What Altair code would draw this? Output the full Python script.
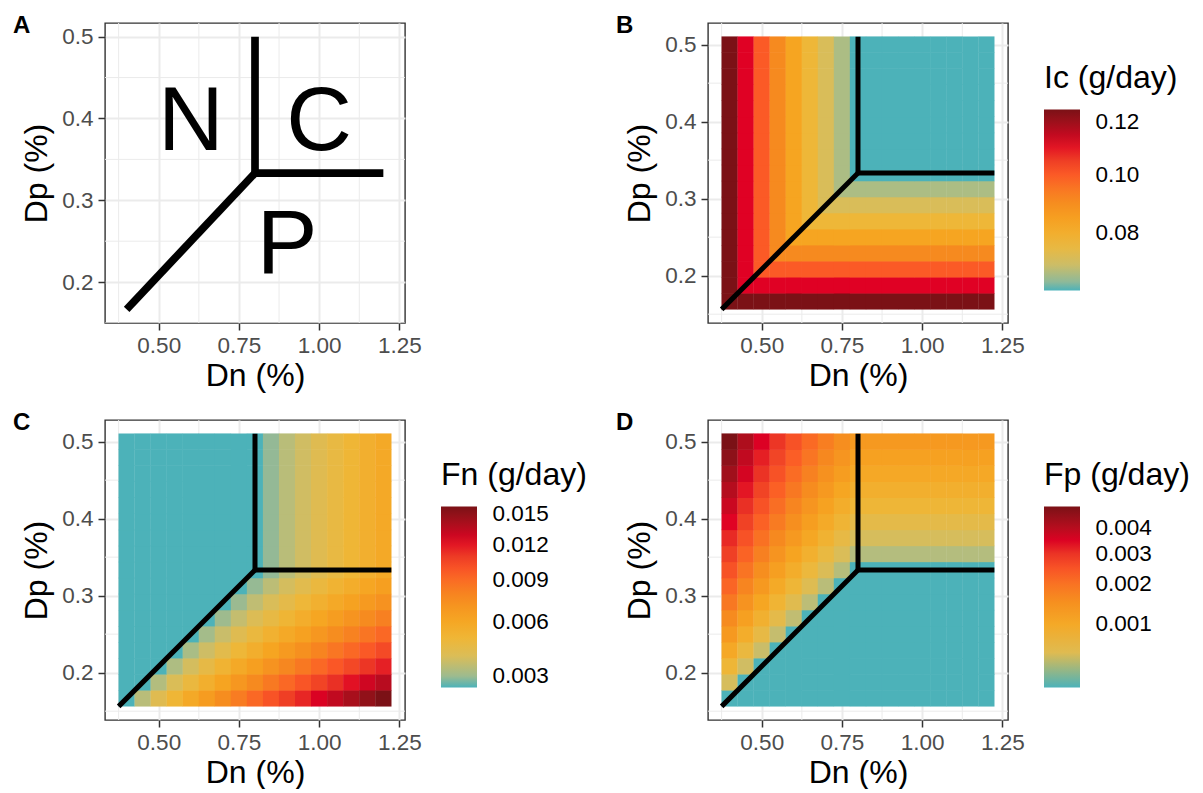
import altair as alt
import pandas as pd

FONT = "Liberation Sans"

# ---------------- data ----------------
DN = [0.40, 0.45, 0.50, 0.55, 0.60, 0.65, 0.70, 0.75, 0.80, 0.85, 0.90, 0.95, 1.00, 1.05, 1.10, 1.15, 1.20]
DP = [0.1667, 0.1875, 0.2083, 0.2292, 0.2500, 0.2708, 0.2917, 0.3125, 0.3333,
      0.3542, 0.3750, 0.3958, 0.4167, 0.4375, 0.4583, 0.4792, 0.5000]

# rows from bottom (Dp = 0.1667) to top (Dp = 0.5), columns Dn 0.40 .. 1.20
IC_ROWS = [
    [0.125, 0.125, 0.125, 0.125, 0.125, 0.125, 0.125, 0.125, 0.125, 0.125, 0.125, 0.125, 0.125, 0.125, 0.125, 0.125, 0.125],
    [0.125, 0.1111, 0.1111, 0.1111, 0.1111, 0.1111, 0.1111, 0.1111, 0.1111, 0.1111, 0.1111, 0.1111, 0.1111, 0.1111, 0.1111, 0.1111, 0.1111],
    [0.125, 0.1111, 0.1, 0.1, 0.1, 0.1, 0.1, 0.1, 0.1, 0.1, 0.1, 0.1, 0.1, 0.1, 0.1, 0.1, 0.1],
    [0.125, 0.1111, 0.1, 0.0909, 0.0909, 0.0909, 0.0909, 0.0909, 0.0909, 0.0909, 0.0909, 0.0909, 0.0909, 0.0909, 0.0909, 0.0909, 0.0909],
    [0.125, 0.1111, 0.1, 0.0909, 0.0833, 0.0833, 0.0833, 0.0833, 0.0833, 0.0833, 0.0833, 0.0833, 0.0833, 0.0833, 0.0833, 0.0833, 0.0833],
    [0.125, 0.1111, 0.1, 0.0909, 0.0833, 0.0769, 0.0769, 0.0769, 0.0769, 0.0769, 0.0769, 0.0769, 0.0769, 0.0769, 0.0769, 0.0769, 0.0769],
    [0.125, 0.1111, 0.1, 0.0909, 0.0833, 0.0769, 0.0714, 0.0714, 0.0714, 0.0714, 0.0714, 0.0714, 0.0714, 0.0714, 0.0714, 0.0714, 0.0714],
    [0.125, 0.1111, 0.1, 0.0909, 0.0833, 0.0769, 0.0714, 0.0667, 0.0667, 0.0667, 0.0667, 0.0667, 0.0667, 0.0667, 0.0667, 0.0667, 0.0667],
    [0.125, 0.1111, 0.1, 0.0909, 0.0833, 0.0769, 0.0714, 0.0667, 0.0625, 0.0625, 0.0625, 0.0625, 0.0625, 0.0625, 0.0625, 0.0625, 0.0625],
    [0.125, 0.1111, 0.1, 0.0909, 0.0833, 0.0769, 0.0714, 0.0667, 0.0625, 0.0625, 0.0625, 0.0625, 0.0625, 0.0625, 0.0625, 0.0625, 0.0625],
    [0.125, 0.1111, 0.1, 0.0909, 0.0833, 0.0769, 0.0714, 0.0667, 0.0625, 0.0625, 0.0625, 0.0625, 0.0625, 0.0625, 0.0625, 0.0625, 0.0625],
    [0.125, 0.1111, 0.1, 0.0909, 0.0833, 0.0769, 0.0714, 0.0667, 0.0625, 0.0625, 0.0625, 0.0625, 0.0625, 0.0625, 0.0625, 0.0625, 0.0625],
    [0.125, 0.1111, 0.1, 0.0909, 0.0833, 0.0769, 0.0714, 0.0667, 0.0625, 0.0625, 0.0625, 0.0625, 0.0625, 0.0625, 0.0625, 0.0625, 0.0625],
    [0.125, 0.1111, 0.1, 0.0909, 0.0833, 0.0769, 0.0714, 0.0667, 0.0625, 0.0625, 0.0625, 0.0625, 0.0625, 0.0625, 0.0625, 0.0625, 0.0625],
    [0.125, 0.1111, 0.1, 0.0909, 0.0833, 0.0769, 0.0714, 0.0667, 0.0625, 0.0625, 0.0625, 0.0625, 0.0625, 0.0625, 0.0625, 0.0625, 0.0625],
    [0.125, 0.1111, 0.1, 0.0909, 0.0833, 0.0769, 0.0714, 0.0667, 0.0625, 0.0625, 0.0625, 0.0625, 0.0625, 0.0625, 0.0625, 0.0625, 0.0625],
    [0.125, 0.1111, 0.1, 0.0909, 0.0833, 0.0769, 0.0714, 0.0667, 0.0625, 0.0625, 0.0625, 0.0625, 0.0625, 0.0625, 0.0625, 0.0625, 0.0625],
]

FN_ROWS = [
    [0.0025, 0.00333, 0.00417, 0.0050, 0.00583, 0.00667, 0.0075, 0.00833, 0.00917, 0.0100, 0.01083, 0.01167, 0.0125, 0.01333, 0.01417, 0.0150, 0.01583],
    [0.0025, 0.0025, 0.00324, 0.00398, 0.00472, 0.00546, 0.0062, 0.00694, 0.00769, 0.00843, 0.00917, 0.00991, 0.01065, 0.01139, 0.01213, 0.01287, 0.01361],
    [0.0025, 0.0025, 0.0025, 0.00317, 0.00383, 0.0045, 0.00517, 0.00583, 0.0065, 0.00717, 0.00783, 0.0085, 0.00917, 0.00983, 0.0105, 0.01117, 0.01183],
    [0.0025, 0.0025, 0.0025, 0.0025, 0.00311, 0.00371, 0.00432, 0.00492, 0.00553, 0.00614, 0.00674, 0.00735, 0.00795, 0.00856, 0.00917, 0.00977, 0.01038],
    [0.0025, 0.0025, 0.0025, 0.0025, 0.0025, 0.00306, 0.00361, 0.00417, 0.00472, 0.00528, 0.00583, 0.00639, 0.00694, 0.0075, 0.00806, 0.00861, 0.00917],
    [0.0025, 0.0025, 0.0025, 0.0025, 0.0025, 0.0025, 0.00301, 0.00353, 0.00404, 0.00455, 0.00506, 0.00558, 0.00609, 0.0066, 0.00712, 0.00763, 0.00814],
    [0.0025, 0.0025, 0.0025, 0.0025, 0.0025, 0.0025, 0.0025, 0.00298, 0.00345, 0.00393, 0.0044, 0.00488, 0.00536, 0.00583, 0.00631, 0.00679, 0.00726],
    [0.0025, 0.0025, 0.0025, 0.0025, 0.0025, 0.0025, 0.0025, 0.0025, 0.00294, 0.00339, 0.00383, 0.00428, 0.00472, 0.00517, 0.00561, 0.00606, 0.0065],
    [0.0025, 0.0025, 0.0025, 0.0025, 0.0025, 0.0025, 0.0025, 0.0025, 0.0025, 0.00292, 0.00333, 0.00375, 0.00417, 0.00458, 0.005, 0.00542, 0.00583],
    [0.0025, 0.0025, 0.0025, 0.0025, 0.0025, 0.0025, 0.0025, 0.0025, 0.0025, 0.00292, 0.00333, 0.00375, 0.00417, 0.00458, 0.005, 0.00542, 0.00583],
    [0.0025, 0.0025, 0.0025, 0.0025, 0.0025, 0.0025, 0.0025, 0.0025, 0.0025, 0.00292, 0.00333, 0.00375, 0.00417, 0.00458, 0.005, 0.00542, 0.00583],
    [0.0025, 0.0025, 0.0025, 0.0025, 0.0025, 0.0025, 0.0025, 0.0025, 0.0025, 0.00292, 0.00333, 0.00375, 0.00417, 0.00458, 0.005, 0.00542, 0.00583],
    [0.0025, 0.0025, 0.0025, 0.0025, 0.0025, 0.0025, 0.0025, 0.0025, 0.0025, 0.00292, 0.00333, 0.00375, 0.00417, 0.00458, 0.005, 0.00542, 0.00583],
    [0.0025, 0.0025, 0.0025, 0.0025, 0.0025, 0.0025, 0.0025, 0.0025, 0.0025, 0.00292, 0.00333, 0.00375, 0.00417, 0.00458, 0.005, 0.00542, 0.00583],
    [0.0025, 0.0025, 0.0025, 0.0025, 0.0025, 0.0025, 0.0025, 0.0025, 0.0025, 0.00292, 0.00333, 0.00375, 0.00417, 0.00458, 0.005, 0.00542, 0.00583],
    [0.0025, 0.0025, 0.0025, 0.0025, 0.0025, 0.0025, 0.0025, 0.0025, 0.0025, 0.00292, 0.00333, 0.00375, 0.00417, 0.00458, 0.005, 0.00542, 0.00583],
    [0.0025, 0.0025, 0.0025, 0.0025, 0.0025, 0.0025, 0.0025, 0.0025, 0.0025, 0.00292, 0.00333, 0.00375, 0.00417, 0.00458, 0.005, 0.00542, 0.00583],
]

FP_ROWS = [
    [0.00012, 0.00012, 0.00012, 0.00012, 0.00012, 0.00012, 0.00012, 0.00012, 0.00012, 0.00012, 0.00012, 0.00012, 0.00012, 0.00012, 0.00012, 0.00012, 0.00012],
    [0.00042, 0.00012, 0.00012, 0.00012, 0.00012, 0.00012, 0.00012, 0.00012, 0.00012, 0.00012, 0.00012, 0.00012, 0.00012, 0.00012, 0.00012, 0.00012, 0.00012],
    [0.00072, 0.00039, 0.00012, 0.00012, 0.00012, 0.00012, 0.00012, 0.00012, 0.00012, 0.00012, 0.00012, 0.00012, 0.00012, 0.00012, 0.00012, 0.00012, 0.00012],
    [0.00102, 0.00065, 0.00036, 0.00012, 0.00012, 0.00012, 0.00012, 0.00012, 0.00012, 0.00012, 0.00012, 0.00012, 0.00012, 0.00012, 0.00012, 0.00012, 0.00012],
    [0.00132, 0.00092, 0.0006, 0.00034, 0.00012, 0.00012, 0.00012, 0.00012, 0.00012, 0.00012, 0.00012, 0.00012, 0.00012, 0.00012, 0.00012, 0.00012, 0.00012],
    [0.00162, 0.00119, 0.00084, 0.00056, 0.00032, 0.00012, 0.00012, 0.00012, 0.00012, 0.00012, 0.00012, 0.00012, 0.00012, 0.00012, 0.00012, 0.00012, 0.00012],
    [0.00192, 0.00145, 0.00108, 0.00077, 0.00052, 0.0003, 0.00012, 0.00012, 0.00012, 0.00012, 0.00012, 0.00012, 0.00012, 0.00012, 0.00012, 0.00012, 0.00012],
    [0.00222, 0.00172, 0.00132, 0.00099, 0.00072, 0.00049, 0.00029, 0.00012, 0.00012, 0.00012, 0.00012, 0.00012, 0.00012, 0.00012, 0.00012, 0.00012, 0.00012],
    [0.00252, 0.00199, 0.00156, 0.00121, 0.00092, 0.00067, 0.00046, 0.00028, 0.00012, 0.00012, 0.00012, 0.00012, 0.00012, 0.00012, 0.00012, 0.00012, 0.00012],
    [0.00282, 0.00225, 0.0018, 0.00143, 0.00112, 0.00086, 0.00063, 0.00044, 0.00027, 0.00027, 0.00027, 0.00027, 0.00027, 0.00027, 0.00027, 0.00027, 0.00027],
    [0.00312, 0.00252, 0.00204, 0.00165, 0.00132, 0.00104, 0.00081, 0.0006, 0.00042, 0.00042, 0.00042, 0.00042, 0.00042, 0.00042, 0.00042, 0.00042, 0.00042],
    [0.00342, 0.00279, 0.00228, 0.00187, 0.00152, 0.00123, 0.00098, 0.00076, 0.00057, 0.00057, 0.00057, 0.00057, 0.00057, 0.00057, 0.00057, 0.00057, 0.00057],
    [0.00372, 0.00305, 0.00252, 0.00208, 0.00172, 0.00141, 0.00115, 0.00092, 0.00072, 0.00072, 0.00072, 0.00072, 0.00072, 0.00072, 0.00072, 0.00072, 0.00072],
    [0.00402, 0.00332, 0.00276, 0.0023, 0.00192, 0.0016, 0.00132, 0.00108, 0.00087, 0.00087, 0.00087, 0.00087, 0.00087, 0.00087, 0.00087, 0.00087, 0.00087],
    [0.00432, 0.00359, 0.003, 0.00252, 0.00212, 0.00178, 0.00149, 0.00124, 0.00102, 0.00102, 0.00102, 0.00102, 0.00102, 0.00102, 0.00102, 0.00102, 0.00102],
    [0.00462, 0.00385, 0.00324, 0.00274, 0.00232, 0.00197, 0.00166, 0.0014, 0.00117, 0.00117, 0.00117, 0.00117, 0.00117, 0.00117, 0.00117, 0.00117, 0.00117],
    [0.00492, 0.00412, 0.00348, 0.00296, 0.00252, 0.00215, 0.00183, 0.00156, 0.00132, 0.00132, 0.00132, 0.00132, 0.00132, 0.00132, 0.00132, 0.00132, 0.00132],
]

for _rows in (IC_ROWS, FN_ROWS, FP_ROWS):
    assert len(_rows) == 17 and all(len(r) == 17 for r in _rows)

# limiting-element boundary segments
A_X = [0.4, 0.8, 0.8]
A_Y = [0.1667, 0.3333, 0.3333]
A_X2 = [0.8, 0.8, 1.2]
A_Y2 = [0.3333, 0.5, 0.3333]
H_X = [0.375, 0.8, 0.8]
H_Y = [0.15625, 0.3333, 0.3333]
H_X2 = [0.8, 0.8, 1.225]
H_Y2 = [0.3333, 0.5104, 0.3333]

REGION_TEXT = ["N", "C", "P"]
REGION_X = [0.6, 1.0, 0.9]
REGION_Y = [0.4, 0.4, 0.25]

X_TICKS = [0.5, 0.75, 1.0, 1.25]
Y_TICKS = [0.2, 0.3, 0.4, 0.5]
X_MINOR = [0.375, 0.625, 0.875, 1.125]
Y_MINOR = [0.15, 0.25, 0.35, 0.45]

IC_TICKS = [0.08, 0.10, 0.12]
FN_TICKS = [0.003, 0.006, 0.009, 0.012, 0.015]
FP_TICKS = [0.001, 0.002, 0.003, 0.004]

# ---------------- styling ----------------
X_DOM = [0.3325, 1.2675]
Y_DOM_A = [0.15, 0.51667]
Y_DOM_H = [0.13854, 0.52813]
HALF_W = 0.0254
HALF_H = 0.0107
W = 300
H = 300

STOP_T = [0.0, 0.079, 0.167, 0.264, 0.374, 0.498, 0.640, 0.805, 1.0]
PALETTE = ["#4CB2B9", "#ACBD84", "#D9BD59", "#EEB738", "#F6A521",
           "#F68A1F", "#FB5A26", "#E00024", "#7B1116"]


def color_scale(lo, hi):
    s0, s1 = lo ** 0.5, hi ** 0.5
    dom = [(s0 + t * (s1 - s0)) ** 2 for t in STOP_T]
    return alt.Scale(type="sqrt", domain=dom, range=PALETTE, interpolate="lab")


def xaxis():
    return alt.Axis(values=X_TICKS, format=".2f", title="Dn (%)")


def yaxis():
    return alt.Axis(values=Y_TICKS, format=".1f", title="Dp (%)")


def xs():
    return alt.Scale(domain=X_DOM, nice=False, zero=False)


def ys(dom):
    return alt.Scale(domain=dom, nice=False, zero=False)


def minor_layers(ydom):
    vx = alt.Chart(pd.DataFrame({"m": X_MINOR})).mark_rule(
        color="#EBEBEB", strokeWidth=1, clip=True
    ).encode(x=alt.X("m:Q", scale=xs(), axis=xaxis()))
    hy = alt.Chart(pd.DataFrame({"m": Y_MINOR})).mark_rule(
        color="#EBEBEB", strokeWidth=1, clip=True
    ).encode(y=alt.Y("m:Q", scale=ys(ydom), axis=yaxis()))
    return [vx, hy]


def seg_layer(xv, yv, x2v, y2v, ydom, width):
    df = pd.DataFrame({"x": xv, "y": yv, "x2": x2v, "y2": y2v})
    return alt.Chart(df).mark_rule(color="black", strokeWidth=width, strokeCap="butt").encode(
        x=alt.X("x:Q", scale=xs(), axis=xaxis()),
        y=alt.Y("y:Q", scale=ys(ydom), axis=yaxis()),
        x2="x2:Q",
        y2="y2:Q",
    )


def panel_title(letter):
    return alt.TitleParams(
        text=letter, anchor="start", frame="group", orient="top",
        dx=-92, dy=34, offset=0, baseline="alphabetic",
        fontSize=24, fontWeight="bold", font=FONT, color="black",
    )


def heat_panel(rows, name, legend_title, ticks, fmt, lo, hi, letter):
    recs = []
    for j, row in enumerate(rows):
        for i, v in enumerate(row):
            recs.append({"dn": DN[i], "dp": DP[j], name: v})
    df = pd.DataFrame(recs)
    leg = alt.Legend(
        type="gradient",
        title=legend_title, orient="none", legendX=336, legendY=40,
        values=ticks, format=fmt, direction="vertical",
        gradientLength=181, gradientThickness=36, gradientStrokeWidth=0,
        titleFont=FONT, titleFontSize=32, titleFontWeight="normal", titleColor="black",
        titlePadding=14.5, titleLimit=400,
        labelFont=FONT, labelFontSize=22.5, labelColor="black", labelOffset=15.5,
        labelOverlap=False, padding=0,
    )
    tiles = alt.Chart(df).transform_calculate(
        x0=f"datum.dn - {HALF_W}", x1=f"datum.dn + {HALF_W}",
        y0=f"datum.dp - {HALF_H}", y1=f"datum.dp + {HALF_H}",
    ).mark_rect(strokeWidth=0).encode(
        x=alt.X("x0:Q", scale=xs(), axis=xaxis()),
        x2="x1:Q",
        y=alt.Y("y0:Q", scale=ys(Y_DOM_H), axis=yaxis()),
        y2="y1:Q",
        color=alt.Color(f"{name}:Q", scale=color_scale(lo, hi), legend=leg),
    )
    layers = minor_layers(Y_DOM_H) + [tiles, seg_layer(H_X, H_Y, H_X2, H_Y2, Y_DOM_H, 5)]
    return alt.layer(*layers).properties(width=W, height=H, title=panel_title(letter))


# panel A
txt_df = pd.DataFrame({"x": REGION_X, "y": REGION_Y, "t": REGION_TEXT})
texts = alt.Chart(txt_df).mark_text(
    font=FONT, fontSize=91, align="center", baseline="middle", dy=5, color="black"
).encode(
    x=alt.X("x:Q", scale=xs(), axis=xaxis()),
    y=alt.Y("y:Q", scale=ys(Y_DOM_A), axis=yaxis()),
    text="t:N",
)
panel_a = alt.layer(
    *minor_layers(Y_DOM_A), seg_layer(A_X, A_Y, A_X2, A_Y2, Y_DOM_A, 7.7), texts
).properties(width=W, height=H, title=panel_title("A"))

panel_b = heat_panel(IC_ROWS, "Ic", "Ic (g/day)", IC_TICKS, ".2f", 0.0625, 0.125, "B")
panel_c = heat_panel(FN_ROWS, "Fn", "Fn (g/day)", FN_TICKS, ".3f", 0.0025, 0.01583, "C")
panel_d = heat_panel(FP_ROWS, "Fp", "Fp (g/day)", FP_TICKS, ".3f", 0.00012, 0.00492, "D")

SV = 18
SH = 27
col1 = alt.vconcat(panel_a, panel_c, spacing=SV).resolve_scale(
    color="independent", x="independent", y="independent")
col2 = alt.vconcat(panel_b, panel_d, spacing=SV).resolve_scale(
    color="independent", x="independent", y="independent")

chart = alt.hconcat(col1, col2, spacing=SH).resolve_scale(
    color="independent", x="independent", y="independent"
).properties(
    padding={"left": 4, "top": 5, "right": 0, "bottom": 0}, background="white"
).configure_axis(
    labelFont=FONT, labelFontSize=22.5, labelColor="#4D4D4D",
    titleFont=FONT, titleFontSize=32, titleColor="black", titleFontWeight="normal",
    tickColor="#333333", tickWidth=1.5, tickSize=7, domain=False,
    grid=True, gridColor="#EBEBEB", gridWidth=2,
).configure_axisX(labelPadding=4.5, titlePadding=3).configure_axisY(
    labelPadding=5, titlePadding=8
).configure_title(
    font=FONT, fontSize=24, fontWeight="bold", color="black", anchor="start"
).configure_view(stroke="#333333", strokeWidth=1.4)

chart.save("out.html", embed_options={"renderer": "svg", "actions": False})
